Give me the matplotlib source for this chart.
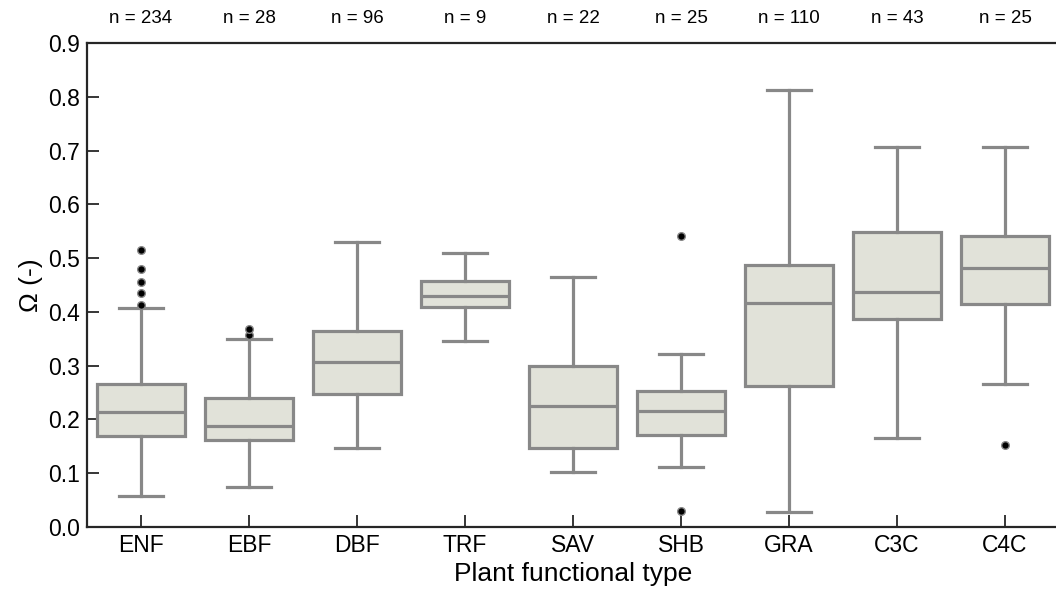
import matplotlib
matplotlib.use("Agg")
import matplotlib.pyplot as plt
import matplotlib.transforms as mtransforms

plt.rcParams['font.family'] = ['Liberation Sans', 'DejaVu Sans']

categories = ["ENF", "EBF", "DBF", "TRF", "SAV", "SHB", "GRA", "C3C", "C4C"]
counts = [234, 28, 96, 9, 22, 25, 110, 43, 25]
whislo = [0.058, 0.074, 0.146, 0.346, 0.103, 0.111, 0.027, 0.165, 0.266]
q1 = [0.169, 0.162, 0.247, 0.4085, 0.147, 0.172, 0.262, 0.386, 0.414]
med = [0.213, 0.188, 0.306, 0.429, 0.2256, 0.216, 0.416, 0.4375, 0.481]
q3 = [0.266, 0.240, 0.3645, 0.458, 0.299, 0.252, 0.487, 0.549, 0.5417]
whishi = [0.408, 0.350, 0.530, 0.509, 0.464, 0.321, 0.813, 0.706, 0.706]
fliers = [
    [0.413, 0.436, 0.456, 0.48, 0.515],
    [0.357, 0.368],
    [], [], [],
    [0.030, 0.5405],
    [], [],
    [0.1525],
]

stats = []
for i, c in enumerate(categories):
    stats.append(dict(label=c, whislo=whislo[i], q1=q1[i], med=med[i],
                      q3=q3[i], whishi=whishi[i], fliers=fliers[i]))

fig = plt.figure(figsize=(10.56, 5.91), dpi=100)
ax = fig.add_axes([87/1056, 64/591, 972/1056, 484/591])

edge = "#888888"
fill = "#e1e2d9"
lw = 2.3
ax.bxp(stats, positions=range(len(categories)), widths=0.815, patch_artist=True,
       boxprops=dict(facecolor=fill, edgecolor=edge, linewidth=lw),
       medianprops=dict(color=edge, linewidth=lw),
       whiskerprops=dict(color=edge, linewidth=lw),
       capprops=dict(color=edge, linewidth=lw),
       capwidths=0.41,
       flierprops=dict(marker='o', markerfacecolor='black', markeredgecolor='#888888',
                       markersize=5.5, markeredgewidth=1.0))

ax.set_xlim(-0.5, 8.5)
ax.set_ylim(0, 0.9)
ax.set_yticks([0, 0.1, 0.2, 0.3, 0.4, 0.5, 0.6, 0.7, 0.8, 0.9])
ax.set_yticklabels([f"{v:.1f}" for v in ax.get_yticks()])
ax.set_xticks(range(len(categories)))
ax.set_xticklabels(categories)

for s in ['left', 'bottom', 'top']:
    ax.spines[s].set_color('#262626')
    ax.spines[s].set_linewidth(1.6)
ax.spines['right'].set_visible(False)

ax.tick_params(axis='both', direction='in', length=8.5, width=1.3, color='#262626',
               labelsize=16.5, top=False, right=False)
ax.tick_params(axis='x', pad=5)
ax.tick_params(axis='y', pad=5)

ax.set_xlabel("Plant functional type", fontsize=19, labelpad=4)
ax.set_ylabel("Ω (-)", fontsize=19, labelpad=4)

trans = mtransforms.blended_transform_factory(ax.transData, ax.transAxes)
for i, n in enumerate(counts):
    ax.text(i, 1.05, f"n = {n}", transform=trans, ha='center', va='center',
            fontsize=13.5)

fig.savefig("out.png", dpi=100)
